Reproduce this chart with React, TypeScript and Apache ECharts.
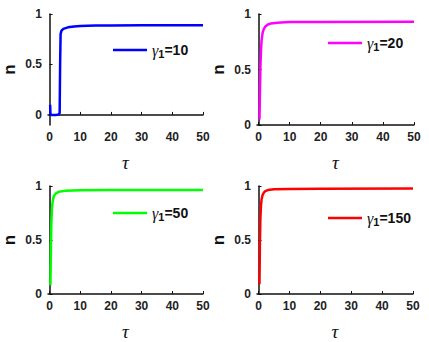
import React, { useEffect, useRef } from "react";
import * as echarts from "echarts";

const xTicks = [0, 10, 20, 30, 40, 50];
const yTicks = [0, 0.5, 1];
const names = ["10", "20", "50", "150"];
const colors = ["#0000ff", "#ff00ff", "#00ff00", "#ff0000"];

const s10: number[][] = [
  [0.2, 0.1], [0.3, 0.01], [0.6, 0.0], [1, 0], [2, 0], [3, 0.003], [3.3, 0.02],
  [3.45, 0.5], [3.6, 0.8], [3.9, 0.835], [4.5, 0.853], [6, 0.868], [8, 0.877],
  [10, 0.881], [15, 0.885], [20, 0.887], [30, 0.888], [50, 0.889],
];
const s20: number[][] = [
  [0.3, 0.05], [0.45, 0.3], [0.6, 0.52], [0.8, 0.68], [1.0, 0.77], [1.3, 0.83],
  [1.7, 0.865], [2.2, 0.888], [3, 0.905], [4, 0.915], [6, 0.922], [10, 0.927],
  [20, 0.929], [50, 0.93],
];
const s50: number[][] = [
  [0.3, 0.08], [0.45, 0.42], [0.6, 0.66], [0.8, 0.79], [1.0, 0.85], [1.3, 0.895],
  [1.7, 0.92], [2.2, 0.935], [3, 0.946], [5, 0.955], [10, 0.96], [20, 0.962], [50, 0.963],
];
const s150: number[][] = [
  [0.3, 0.09], [0.45, 0.48], [0.6, 0.7], [0.8, 0.82], [1.0, 0.88], [1.3, 0.915],
  [1.7, 0.938], [2.2, 0.952], [3, 0.962], [5, 0.969], [10, 0.973], [20, 0.975], [50, 0.976],
];
const allData = [s10, s20, s50, s150];
const yMins = [-0.1, 0, 0, 0];

const grids = [
  { left: 46, top: 14, width: 157, height: 111 },
  { left: 257, top: 14, width: 157, height: 111 },
  { left: 46, top: 186, width: 157, height: 111 },
  { left: 257, top: 186, width: 156, height: 111 },
];
const legendPos = [
  { left: 113, top: 42 },
  { left: 328, top: 35 },
  { left: 113, top: 205 },
  { left: 328, top: 210 },
];

export default function App() {
  const ref = useRef<HTMLDivElement>(null);
  useEffect(() => {
    if (!ref.current) return;
    const chart = echarts.init(ref.current, null, { renderer: "svg" });
    const axisLine = { show: true, lineStyle: { color: "#111", width: 1.5 } };
    const labelStyle = {
      color: "#222",
      fontFamily: "Liberation Sans, Arial, sans-serif",
      fontWeight: "bold" as const,
      fontSize: 12,
    };
    chart.setOption({
      animation: false,
      backgroundColor: "#fff",
      grid: grids.map((g) => ({ ...g, containLabel: false })),
      xAxis: grids.map((_, i) => ({
        type: "value",
        gridIndex: i,
        min: -0.5,
        max: 50,
        axisLine,
        axisTick: { show: true, inside: true, length: 3, customValues: xTicks, lineStyle: { color: "#111" } },
        axisLabel: { ...labelStyle, margin: 6, customValues: xTicks },
        splitLine: { show: false },
        name: "τ",
        nameLocation: "middle",
        nameGap: 28,
        nameTextStyle: {
          fontFamily: "Liberation Serif, Times New Roman, serif",
          fontStyle: "italic",
          fontSize: 19,
          color: "#111",
        },
      })),
      yAxis: grids.map((_, i) => ({
        type: "value",
        gridIndex: i,
        min: yMins[i],
        max: 1,
        axisLine,
        axisTick: { show: true, inside: true, length: 3, customValues: yTicks, lineStyle: { color: "#111" } },
        axisLabel: {
          ...labelStyle,
          margin: 6,
          customValues: yTicks,
          formatter: (v: number) => (v === 0.5 ? "0.5" : String(Math.round(v))),
        },
        splitLine: { show: false },
        name: "n",
        nameLocation: "middle",
        nameGap: 30,
        nameTextStyle: {
          fontFamily: "Liberation Sans, Arial, sans-serif",
          fontWeight: "bold",
          fontSize: 17,
          color: "#111",
        },
      })),
      legend: names.map((n, i) => ({
        data: ["γ1=" + n],
        left: legendPos[i].left,
        top: legendPos[i].top,
        itemWidth: 34,
        itemHeight: 16,
        icon: "path://M0,6.8L34,6.8L34,9.3L0,9.3Z",
        padding: 0,
        selectedMode: false,
        formatter: () => "{g|γ}{s|1}{b|=" + n + "}",
        textStyle: {
          rich: {
            g: {
              fontFamily: "Liberation Serif, Times New Roman, serif",
              fontStyle: "italic",
              fontSize: 16,
              color: "#111",
            },
            s: {
              fontFamily: "Liberation Sans, Arial, sans-serif",
              fontWeight: "bold",
              fontSize: 11,
              color: "#111",
              padding: [8, 0, 0, 0],
            },
            b: {
              fontFamily: "Liberation Sans, Arial, sans-serif",
              fontWeight: "bold",
              fontSize: 14,
              color: "#111",
            },
          },
        },
      })),
      series: allData.map((d, i) => ({
        name: "γ1=" + names[i],
        type: "line",
        xAxisIndex: i,
        yAxisIndex: i,
        data: d,
        showSymbol: false,
        symbol: "none",
        lineStyle: { color: colors[i], width: 2.5 },
        itemStyle: { color: colors[i] },
        clip: true,
      })),
    });
    return () => chart.dispose();
  }, []);
  return (
    <div
      ref={ref}
      style={{ position: "fixed", left: 0, top: 0, width: 429, height: 342, background: "#fff" }}
    />
  );
}
